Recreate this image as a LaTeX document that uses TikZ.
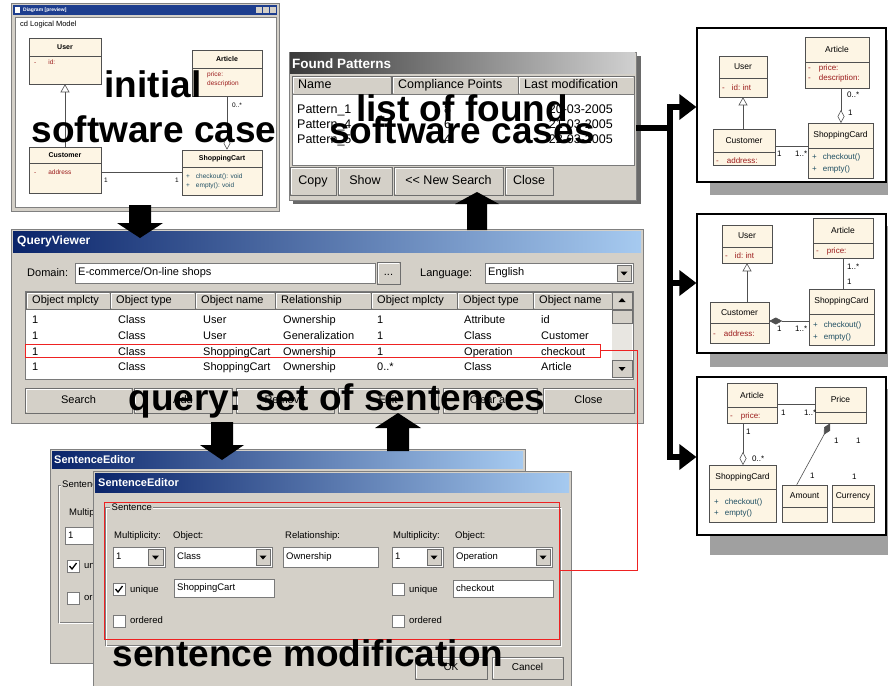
\documentclass[tikz,border=0pt]{standalone}
\usepackage{fontspec}
\setmainfont{Liberation Sans}
\usetikzlibrary{calc,fit,arrows.meta}
\definecolor{winbg}{HTML}{D4D0C8}
\definecolor{winedge}{HTML}{808080}
\definecolor{btndark}{HTML}{6E6E6E}
\definecolor{fieldedge}{HTML}{7A7A7A}
\definecolor{tbdark}{HTML}{0A246A}
\definecolor{tblight}{HTML}{A6CAF0}
\definecolor{tbblue}{HTML}{1E3E8E}
\definecolor{fpdark}{HTML}{3A3A3A}
\definecolor{fplight}{HTML}{D0D0D0}
\definecolor{fpshadow}{HTML}{6A6A6A}
\definecolor{umlfill}{HTML}{FDF5E4}
\definecolor{umlborder}{HTML}{505050}
\definecolor{attrred}{HTML}{9B1B1B}
\definecolor{opteal}{HTML}{1F4F63}
\definecolor{shadowgray}{HTML}{A0A0A0}
\definecolor{hlred}{HTML}{EE2222}
\definecolor{trackgray}{HTML}{E8E6E1}

\tikzset{
 umlbox/.style={draw=umlborder, fill=umlfill, line width=0.6pt, inner sep=0pt},
 umlline/.style={draw=umlborder, line width=0.6pt},
 umltitle/.style={font=\fontsize{8.5}{10}\selectfont, inner sep=0pt},
 attrtxt/.style={font=\fontsize{8}{9}\selectfont, text=attrred, anchor=west, inner sep=0pt},
 optxt/.style={font=\fontsize{8}{9}\selectfont, text=opteal, anchor=west, inner sep=0pt},
 multtxt/.style={font=\fontsize{8}{9}\selectfont, anchor=west, inner sep=0pt},
 panelbox/.style={draw=black, fill=white, line width=1.3pt, inner sep=0pt},
 shadowbox/.style={fill=shadowgray, inner sep=0pt},
 winframe/.style={fill=winbg, draw=winedge, line width=0.8pt, inner sep=0pt},
 field/.style={fill=white, draw=fieldedge, line width=0.7pt, inner sep=0pt},
 btnbox/.style={fill=winbg, draw=btndark, line width=0.8pt, inner sep=0pt},
 btntext/.style={inner sep=0pt, font=\fontsize{11}{13}\selectfont, text height=8pt, text depth=2.3pt},
 hdrtext/.style={inner sep=0pt, anchor=west, font=\fontsize{11}{13}\selectfont, text height=8pt, text depth=2.3pt},
 uitext/.style={inner sep=0pt, anchor=west},
 qvtext/.style={inner sep=0pt, anchor=west, font=\fontsize{11}{13}\selectfont, text height=8pt, text depth=2.3pt},
 fptext/.style={inner sep=0pt, anchor=west, font=\fontsize{12.5}{14}\selectfont, text height=9pt, text depth=2.6pt},
 setext/.style={inner sep=0pt, anchor=west, font=\fontsize{9.5}{11}\selectfont, text height=7pt, text depth=2pt},
 overlaytxt/.style={font=\fontsize{37}{40}\selectfont\bfseries, inner sep=0pt, anchor=base},
 thickconn/.style={line width=6pt, draw=black},
 redconn/.style={draw=hlred, line width=0.9pt},
 gentri/.style={-{Triangle[open, length=8pt, width=9pt]}},
 aggdia/.style={{Diamond[open, length=13pt, width=7pt]}-},
 compdia/.style={{Diamond[length=13pt, width=7pt]}-},
}

\newcommand\umlclass[7]{%
  \node[umlbox, fit={(#2,#3) (#4,#5)}] (#1) {};
  \draw[umlline] (#2,#6) -- (#4,#6);
  \node[umltitle] (#1-t) at ({(#2+#4)/2},{(#3+#6)/2}) {#7};}
\newcommand\wbtn[6]{%
  \node[btnbox, fit={(#2,#3) (#4,#5)}] (#1) {};
  \draw[white, line width=0.8pt] (#2+1,#5-1.5) -- (#2+1,#3+1) -- (#4-1.5,#3+1);
  \node[btntext] (#1-l) at (#1.center) {#6};}
\newcommand\hcell[6]{%
  \node[btnbox, fit={(#2,#3) (#4,#5)}] (#1) {};
  \draw[white, line width=0.8pt] (#2+1,#5-1.5) -- (#2+1,#3+1) -- (#4-1.5,#3+1);
  \node[hdrtext] (#1-l) at (#2+6,{(#3+#5)/2}) {#6};}
\newcommand\ddbtn[5]{%
  \node[btnbox, fit={(#2,#3) (#4,#5)}] (#1) {};
  \fill ($(#1.center)+(-3.5,-1.5)$) -- ($(#1.center)+(3.5,-1.5)$) -- ($(#1.center)+(0,2.5)$) -- cycle;}
\newcommand\upbtn[5]{%
  \node[btnbox, fit={(#2,#3) (#4,#5)}] (#1) {};
  \fill ($(#1.center)+(-3.5,1.5)$) -- ($(#1.center)+(3.5,1.5)$) -- ($(#1.center)+(0,-2.5)$) -- cycle;}
\newcommand\chkbox[4]{%
  \node[field, fit={(#2,#3) (#2+12,#3+12)}] (#1) {};
  \ifnum#4=1 \draw[line width=1.3pt] (#2+2.5,#3+6) -- (#2+5,#3+9) -- (#2+9.5,#3+3);\fi}
\newcommand\fatarrow[5]{%
  \fill[black] ($(#1)+(-#3,0)$) -- ($(#2)+(-#3,{-(#5)})$) -- ($(#2)+(-#4,{-(#5)})$) -- (#2)
    -- ($(#2)+(#4,{-(#5)})$) -- ($(#2)+(#3,{-(#5)})$) -- ($(#1)+(#3,0)$) -- cycle;}
\newcommand\rtip[1]{\fill[black] ($(#1)+(-17,-13)$) -- (#1) -- ($(#1)+(-17,13)$) -- cycle;}

\begin{document}
\begin{tikzpicture}[x=1pt,y=-1pt]
\useasboundingbox (0,0) rectangle (888,685);
\fill[white] (0,0) rectangle (888,685);

%================ Window 1: initial model
\node[winframe, fit={(11,3) (279,211)}] (win1) {};
\fill[tbblue] (13,5) rectangle (277,15);
\node[uitext, font=\fontsize{5}{6}\selectfont\bfseries, text=white] (win1t) at (23,10) {Diagram [preview]};
\fill[white] (15,7) rectangle (20,13);
\fill[winbg] (256,7) rectangle (262,13);
\fill[winbg] (263,7) rectangle (269,13);
\fill[winbg] (270,7) rectangle (276,13);
\fill[white] (15,17) rectangle (276,207);
\draw[gray] (15,17) rectangle (276,207);
\node[uitext, font=\fontsize{7.5}{9}\selectfont] (win1cd) at (20,25) {cd Logical Model};
\begin{scope}[umltitle/.style={font=\fontsize{7}{8}\selectfont\bfseries, inner sep=0pt},
  attrtxt/.style={font=\fontsize{6.5}{8}\selectfont, text=attrred, anchor=west, inner sep=0pt},
  optxt/.style={font=\fontsize{6.5}{8}\selectfont, text=opteal, anchor=west, inner sep=0pt},
  multtxt/.style={font=\fontsize{6.5}{8}\selectfont, anchor=west, inner sep=0pt}]
\umlclass{w1user}{29}{38}{101}{84}{56}{User}
\node[attrtxt] (w1user-a) at (34,62) {-\hspace{12pt}id:};
\umlclass{w1art}{192}{50}{262}{96}{68}{Article}
\node[attrtxt] (w1art-a) at (207,75) {price:};
\node[attrtxt] (w1art-b) at (207,84) {description};
\umlclass{w1cust}{29}{147}{101}{193}{163}{Customer}
\node[attrtxt] (w1cust-a) at (34,172) {-\hspace{12pt}address};
\umlclass{w1shop}{182}{150}{262}{195}{167}{ShoppingCart}
\node[optxt] (w1shop-a) at (186,177) {+\hspace{6pt}checkout(): void};
\node[optxt] (w1shop-b) at (186,186) {+\hspace{6pt}empty(): void};
\draw[umlline, gentri] (w1user.south |- w1cust.north) -- (w1user.south);
\draw[umlline, aggdia] (w1art.south |- w1shop.north) -- (w1art.south);
\node[multtxt] (w1m1) at (232,105) {0..*};
\draw[umlline] (w1cust.east |- 0,172) -- (w1shop.west |- 0,172);
\node[multtxt] (w1m2) at (104,180) {1};
\node[multtxt] (w1m3) at (175,180) {1};
\end{scope}

%================ Found Patterns
\fill[fpshadow] (293,56) rectangle (641,204);
\node[winframe, fit={(289,52) (636,200)}] (fp) {};
\shade[left color=fpdark, right color=fplight] (290,53) rectangle (635,73);
\node[uitext, font=\fontsize{13.5}{15}\selectfont\bfseries, text=white] (fpt) at (292,63.5) {Found Patterns};
\begin{scope}[hdrtext/.style={inner sep=0pt, anchor=west, font=\fontsize{12.5}{14}\selectfont, text height=9pt, text depth=2.6pt},
  btntext/.style={inner sep=0pt, font=\fontsize{12.5}{14}\selectfont, text height=9pt, text depth=2.6pt}]
\hcell{fph1}{292}{76}{391}{94}{Name}
\hcell{fph2}{392}{76}{518}{94}{Compliance Points}
\hcell{fph3}{518}{76}{634}{94}{Last modification}
\node[field, fit={(292,94) (634,165)}] (fplist) {};
\node[fptext] (fpr1a) at (297,110) {Pattern\_1};
\node[fptext] (fpr2a) at (297,125) {Pattern\_4};
\node[fptext] (fpr3a) at (297,140) {Pattern\_5};
\node[fptext] (fpr1b) at (444,110) {8};
\node[fptext] (fpr2b) at (444,125) {6};
\node[fptext] (fpr3b) at (444,140) {4};
\node[fptext, anchor=east] (fpr1c) at (613,110) {20-03-2005};
\node[fptext, anchor=east] (fpr2c) at (613,125) {21-03-2005};
\node[fptext, anchor=east] (fpr3c) at (613,140) {22-03-2005};
\wbtn{fpcopy}{290}{167}{336}{195}{Copy}
\wbtn{fpshow}{338}{167}{392}{195}{Show}
\wbtn{fpnew}{394}{167}{503}{195}{{<}{<} New Search}
\wbtn{fpclose}{505}{167}{553}{195}{Close}
\end{scope}

%================ QueryViewer
\node[winframe, fit={(11,229) (643,423)}] (qv) {};
\shade[left color=tbdark, right color=tblight] (13,231) rectangle (641,252);
\node[uitext, font=\fontsize{12}{14}\selectfont\bfseries, text=white] (qvt) at (17,241.5) {QueryViewer};
\node[qvtext] (qvdl) at (27,274) {Domain:};
\node[field, fit={(75,263) (375,283)}] (qvdom) {};
\node[qvtext] (qvdomt) at (78,273) {E-commerce/On-line shops};
\wbtn{qvdots}{377}{262}{400}{284}{...}
\node[qvtext] (qvll) at (420,274) {Language:};
\node[field, fit={(485,263) (633,283)}] (qvlang) {};
\node[qvtext] (qvlangt) at (488,273) {English};
\ddbtn{qvlangdd}{617}{265}{631}{281}
\node[field, fit={(25,291) (633,379)}] (qvtable) {};
\hcell{qh1}{26}{292}{110}{309}{Object mplcty}
\hcell{qh2}{110}{292}{195}{309}{Object type}
\hcell{qh3}{195}{292}{275}{309}{Object name}
\hcell{qh4}{275}{292}{371}{309}{Relationship}
\hcell{qh5}{371}{292}{457}{309}{Object mplcty}
\hcell{qh6}{457}{292}{533}{309}{Object type}
\hcell{qh7}{533}{292}{612}{309}{Object name}
\fill[trackgray] (612,292) rectangle (632,378);
\upbtn{qvup}{612}{292}{632}{309}
\node[btnbox, fit={(612,310) (632,323)}] (qvthumb) {};
\ddbtn{qvdown}{612}{360}{632}{377}
\foreach \tx/\xx [count=\j] in {1/32, Class/118, User/203, Ownership/283, 1/377, Attribute/464, id/541}
  \node[qvtext] (qra-\j) at (\xx,321) {\tx};
\foreach \tx/\xx [count=\j] in {1/32, Class/118, User/203, Generalization/283, 1/377, Class/464, Customer/541}
  \node[qvtext] (qrb-\j) at (\xx,337) {\tx};
\foreach \tx/\xx [count=\j] in {1/32, Class/118, ShoppingCart/203, Ownership/283, 1/377, Operation/464, checkout/541}
  \node[qvtext] (qrc-\j) at (\xx,352.5) {\tx};
\foreach \tx/\xx [count=\j] in {1/32, Class/118, ShoppingCart/203, Ownership/283, 0..*/377, Class/464, Article/541}
  \node[qvtext] (qrd-\j) at (\xx,368) {\tx};
\node[draw=hlred, line width=0.9pt, inner sep=0pt, fit={(25,344) (600,357)}] (hlrow) {};
\wbtn{qvsearch}{25}{388}{132}{413}{Search}
\wbtn{qvadd}{134}{388}{232}{413}{Add}
\wbtn{qvremove}{236}{388}{334}{413}{Remove}
\wbtn{qvedit}{338}{388}{438}{413}{Edit}
\wbtn{qvclear}{443}{388}{537}{413}{Clear all}
\wbtn{qvclose}{543}{388}{634}{413}{Close}

%================ SentenceEditor (back)
\node[winframe, fit={(50,449) (525,663)}] (se1) {};
\shade[left color=tbdark, right color=tblight] (52,451) rectangle (523,468);
\node[uitext, font=\fontsize{11}{13}\selectfont\bfseries, text=white] (se1t) at (54,460) {SentenceEditor};
\draw[gray] (58,485) rectangle (300,622);
\draw[white] (59,486) rectangle (301,623);
\node[setext, fill=winbg, inner xsep=1pt] (se1g) at (61,485) {Sentence};
\node[setext] (se1m) at (69,513) {Multiplicity:};
\node[field, fit={(65,527) (118,544)}] (se1f) {};
\node[setext] (se1ft) at (68,535.5) {1};
\chkbox{se1c1}{67}{560}{1}
\node[setext] (se1u) at (84,566) {unique};
\chkbox{se1c2}{67}{592}{0}
\node[setext] (se1o) at (84,598) {ordered};

%================ SentenceEditor (front)
\node[winframe, fit={(93,471) (571,690)}] (se2) {};
\shade[left color=tbdark, right color=tblight] (95,473) rectangle (569,492);
\node[uitext, font=\fontsize{11}{13}\selectfont\bfseries, text=white] (se2t) at (98,483) {SentenceEditor};
\draw[gray] (105,507) rectangle (560,645);
\draw[white] (106,508) rectangle (561,646);
\node[draw=hlred, line width=0.9pt, inner sep=0pt, fit={(104,502) (559,639)}] (sentbox) {};
\node[setext, fill=winbg, inner xsep=1.5pt] (se2g) at (110,507.5) {Sentence};
\node[setext] (l1) at (114,536) {Multiplicity:};
\node[setext] (l2) at (173,536) {Object:};
\node[setext] (l3) at (285,536) {Relationship:};
\node[setext] (l4) at (393,536) {Multiplicity:};
\node[setext] (l5) at (455,536) {Object:};
\node[field, fit={(113,547) (165,567)}] (cm1) {};
\node[setext] (cm1t) at (116,557) {1};
\ddbtn{cm1b}{148}{549}{163}{565}
\node[field, fit={(174,547) (272,567)}] (co1) {};
\node[setext] (co1t) at (177,557) {Class};
\ddbtn{co1b}{256}{549}{270}{565}
\node[field, fit={(283,547) (378,567)}] (crel) {};
\node[setext] (crelt) at (286,557) {Ownership};
\node[field, fit={(392,547) (443,567)}] (cm2) {};
\node[setext] (cm2t) at (395,557) {1};
\ddbtn{cm2b}{427}{549}{441}{565}
\node[field, fit={(453,547) (552,567)}] (co2) {};
\node[setext] (co2t) at (456,557) {Operation};
\ddbtn{co2b}{536}{549}{550}{565}
\chkbox{ck1}{113}{583}{1}
\node[setext] (ck1t) at (130,590) {unique};
\node[field, fit={(174,579) (274,597)}] (obj1) {};
\node[setext] (obj1t) at (177,588) {ShoppingCart};
\chkbox{ck2}{392}{583}{0}
\node[setext] (ck2t) at (409,590) {unique};
\node[field, fit={(453,580) (553,597)}] (obj2) {};
\node[setext] (obj2t) at (456,588.5) {checkout};
\chkbox{ck3}{113}{615}{0}
\node[setext] (ck3t) at (130,621) {ordered};
\chkbox{ck4}{392}{615}{0}
\node[setext] (ck4t) at (409,621) {ordered};
\begin{scope}[btntext/.style={inner sep=0pt, font=\fontsize{10}{12}\selectfont, text height=7.5pt, text depth=2pt}]
\wbtn{seok}{415}{657}{487}{679}{OK}
\wbtn{secancel}{492}{657}{563}{679}{Cancel}
\end{scope}

%================ red link between highlighted row and sentence
\draw[redconn] (hlrow.east) -- ++(37,0) |- (sentbox.east);

%================ fat arrows
\coordinate (a1s) at (140,205);
\coordinate (a1t) at (140,238);
\coordinate (a2s) at (477,230);
\coordinate (a2t) at (477,192);
\coordinate (a3s) at (222,422);
\coordinate (a3t) at (222,460);
\coordinate (a4s) at (398,451);
\coordinate (a4t) at (398,413);
\fatarrow{a1s}{a1t}{11}{23}{15}
\fatarrow{a2s}{a2t}{10}{22}{-12}
\fatarrow{a3s}{a3t}{11}{22}{15}
\fatarrow{a4s}{a4t}{11}{23}{-15}

%================ overlay captions
\node[overlaytxt] (ov1a) at (153,97) {initial};
\node[overlaytxt] (ov1b) at (154,142) {software case};
\node[overlaytxt] (ov2a) at (462,121) {list of found};
\node[overlaytxt] (ov2b) at (462,143) {software cases};
\node[overlaytxt] (ov3) at (337,410) {query: set of sentences};
\node[overlaytxt] (ov4) at (308,666) {sentence modification};

%================ right panels
\node[shadowbox, fit={(710,40) (889,195)}] (sh1) {};
\node[panelbox, fit={(697,28) (886,182)}] (pan1) {};
\node[shadowbox, fit={(710,226) (889,367)}] (sh2) {};
\node[panelbox, fit={(697,214) (886,353)}] (pan2) {};
\node[shadowbox, fit={(710,389) (889,555)}] (sh3) {};
\node[panelbox, fit={(697,377) (886,535)}] (pan3) {};

% panel 1
\umlclass{p1user}{719}{56}{767}{97}{78}{User}
\node[attrtxt] (p1user-a) at (722,87.5) {-\hspace{7pt}id:\ int};
\umlclass{p1art}{805}{37}{869}{88}{62}{Article}
\node[attrtxt] (p1art-a) at (808,68.5) {-\hspace{8pt}price:};
\node[attrtxt] (p1art-b) at (808,78.5) {-\hspace{8pt}description:};
\umlclass{p1cust}{713}{129}{775}{165}{152}{Customer}
\node[attrtxt] (p1cust-a) at (716,161) {-\hspace{8pt}address:};
\umlclass{p1shop}{808}{123}{873}{178}{148}{ShoppingCard}
\node[optxt] (p1shop-a) at (812,157) {+\hspace{6pt}checkout()};
\node[optxt] (p1shop-b) at (812,169) {+\hspace{6pt}empty()};
\draw[umlline, gentri] (p1user.south |- p1cust.north) -- (p1user.south);
\draw[umlline, aggdia] (841,123) -- (841,88);
\node[multtxt] (p1m1) at (847,95) {0..*};
\node[multtxt] (p1m2) at (848,113) {1};
\draw[umlline] (p1cust.east |- 0,146) -- (p1shop.west |- 0,146);
\node[multtxt] (p1m3) at (777,154) {1};
\node[multtxt] (p1m4) at (795,154) {1..*};

% panel 2
\umlclass{p2user}{722}{225}{772}{263}{247}{User}
\node[attrtxt] (p2user-a) at (725,256) {-\hspace{7pt}id:\ int};
\umlclass{p2art}{813}{218}{873}{258}{243}{Article}
\node[attrtxt] (p2art-a) at (816,251) {-\hspace{8pt}price:};
\umlclass{p2cust}{710}{302}{769}{343}{323}{Customer}
\node[attrtxt] (p2cust-a) at (713,334) {-\hspace{8pt}address:};
\umlclass{p2shop}{809}{289}{874}{345}{314}{ShoppingCard}
\node[optxt] (p2shop-a) at (813,325) {+\hspace{6pt}checkout()};
\node[optxt] (p2shop-b) at (813,337) {+\hspace{6pt}empty()};
\draw[umlline, gentri] (p2user.south |- p2cust.north) -- (p2user.south);
\draw[umlline] (p2art.south) -- (p2art.south |- p2shop.north);
\node[multtxt] (p2m1) at (847,267) {1..*};
\node[multtxt] (p2m2) at (847,282) {1};
\draw[umlline, compdia] (p2cust.east |- 0,321) -- (p2shop.west |- 0,321);
\node[multtxt] (p2m3) at (777,329) {1};
\node[multtxt] (p2m4) at (795,329) {1..*};

% panel 3
\umlclass{p3art}{727}{383}{777}{423}{407}{Article}
\node[attrtxt] (p3art-a) at (730,416) {-\hspace{8pt}price:};
\umlclass{p3price}{815}{387}{866}{423}{412}{Price}
\umlclass{p3shop}{709}{465}{776}{522}{489}{ShoppingCard}
\node[optxt] (p3shop-a) at (714,502) {+\hspace{6pt}checkout()};
\node[optxt] (p3shop-b) at (714,513) {+\hspace{6pt}empty()};
\umlclass{p3amount}{782}{485}{827}{522}{507}{Amount}
\umlclass{p3curr}{832}{485}{874}{522}{507}{Currency}
\draw[umlline] (p3art.east |- 0,404) -- (p3price.west |- 0,404);
\node[multtxt] (p3m1) at (781,413) {1};
\node[multtxt] (p3m2) at (804,413) {1..*};
\draw[umlline, aggdia] (743,465) -- (743,423);
\node[multtxt] (p3m3) at (746,432) {1};
\node[multtxt] (p3m4) at (752,459) {0..*};
\draw[umlline, compdia] ($(p3price.south west)!0.3!(p3price.south east)$) -- ($(p3amount.north west)!0.33!(p3amount.north east)$);
\node[multtxt] (p3m5) at (834,441) {1};
\node[multtxt] (p3m6) at (810,476) {1};
\draw[umlline] ($(p3price.south west)!0.67!(p3price.south east)$) -- ($(p3price.south west)!0.67!(p3price.south east)$ |- p3curr.north);
\node[multtxt] (p3m7) at (856,441) {1};
\node[multtxt] (p3m8) at (852,477) {1};

%================ connector from found patterns to the three cases
\coordinate (fpout) at (fp.east |- 0,128);
\coordinate (jmid) at (670,128);
\coordinate (j1) at (670,107);
\coordinate (j2) at (670,283);
\coordinate (j3) at (670,457);
\coordinate (t1) at (pan1.west |- 0,107);
\coordinate (t2) at (pan2.west |- 0,283);
\coordinate (t3) at (pan3.west |- 0,457);
\draw[thickconn] (fpout) -- (jmid);
\draw[thickconn, line join=miter] ($(t1)+(-16,0)$) -- (j1) -- (j3) -- ($(t3)+(-16,0)$);
\draw[thickconn] (j2) -- ($(t2)+(-16,0)$);
\rtip{t1}
\rtip{t2}
\rtip{t3}
\end{tikzpicture}
\end{document}
